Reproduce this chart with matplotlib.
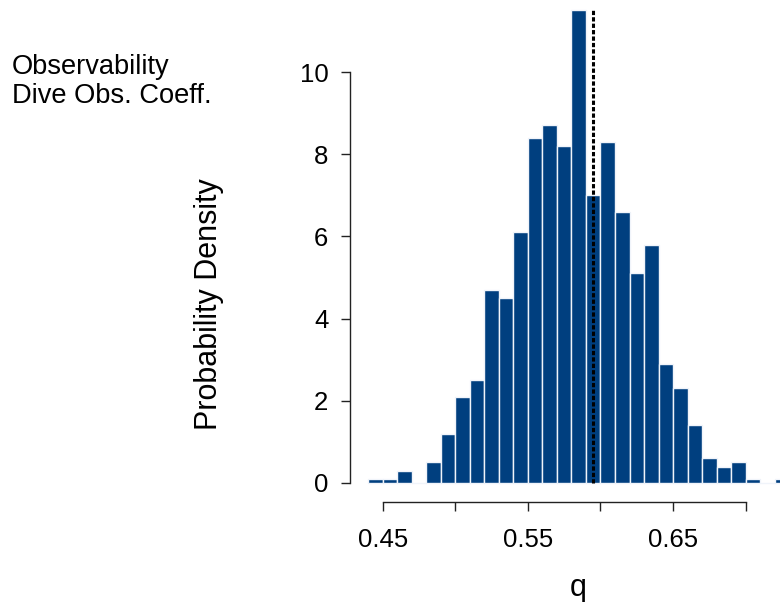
import matplotlib
matplotlib.use("Agg")
import matplotlib.pyplot as plt
import numpy as np

plt.rcParams['font.family'] = ['Liberation Sans', 'DejaVu Sans']

# Histogram data (density, bin width 0.01)
bin_edges = [0.44, 0.45, 0.46, 0.47, 0.48, 0.49, 0.50, 0.51, 0.52, 0.53, 0.54,
             0.55, 0.56, 0.57, 0.58, 0.59, 0.60, 0.61, 0.62, 0.63, 0.64, 0.65,
             0.66, 0.67, 0.68, 0.69, 0.70, 0.71, 0.72, 0.73]
densities = [0.1, 0.1, 0.3, 0.0, 0.5, 1.2, 2.1, 2.5, 4.7, 4.5, 6.1, 8.4, 8.7,
             8.2, 11.5, 7.0, 8.3, 6.6, 5.1, 5.8, 2.9, 2.3, 1.4, 0.6, 0.4, 0.5,
             0.1, 0.0, 0.1]
ref_value = 0.595
ref_top = 11.5
x_ticks = [0.45, 0.50, 0.55, 0.60, 0.65, 0.70]
x_ticklabels = ["0.45", "", "0.55", "", "0.65", ""]
y_ticks = [0, 2, 4, 6, 8, 10]

W, H = 780, 602
fig = plt.figure(figsize=(W / 100, H / 100), dpi=100)
# axes spans pixels x 350..780, y 0..502
ax = fig.add_axes([350 / W, (H - 502) / H, 430 / W, 502 / H])

edges = np.array(bin_edges)
widths = np.diff(edges)
ax.bar(edges[:-1], densities, width=widths, align='edge',
       color='#003F7F', edgecolor='#F0F4FA', linewidth=1.0, zorder=2)

ax.plot([ref_value, ref_value], [0, ref_top], color='black', lw=2.2,
        linestyle=(0, (1.4, 0.7)), zorder=3, solid_capstyle='butt',
        dash_capstyle='butt')

# px mapping: x = 382.7 + (v-0.45)*1452 ; y0 = 483, 41.1 px/unit
ax.set_xlim(0.45 + (350 - 382.7) / 1452, 0.45 + (780 - 382.7) / 1452)
ax.set_ylim((483 - 502) / 41.1, 483 / 41.1)

for s in ['top', 'right']:
    ax.spines[s].set_visible(False)
ax.spines['left'].set_bounds(0, 10)
ax.spines['bottom'].set_bounds(0.45, 0.70)
for s in ['left', 'bottom']:
    ax.spines[s].set_linewidth(1.0)
    ax.spines[s].set_color('#222222')

ax.set_xticks(x_ticks)
ax.set_xticklabels(x_ticklabels)
ax.set_yticks(y_ticks)
ax.set_yticklabels([str(v) for v in y_ticks])
ax.tick_params(axis='both', length=6.5, width=1.0, color='#222222',
               labelsize=18.5, labelcolor='black')
ax.tick_params(axis='y', pad=9)
ax.tick_params(axis='x', pad=12)

fig.text(578 / W, 1 - 596 / H, 'q', fontsize=22, ha='center', va='baseline')
fig.text(209 / W, 1 - 304 / H, 'Probability Density', rotation=90,
         fontsize=22, ha='center', va='center')

fig.text(12 / W, 1 - 74 / H, 'Observability', fontsize=19.6, ha='left',
         va='baseline')
fig.text(12 / W, 1 - 103 / H, 'Dive Obs. Coeff.', fontsize=19.6, ha='left',
         va='baseline')

fig.savefig('out.png', dpi=100)
